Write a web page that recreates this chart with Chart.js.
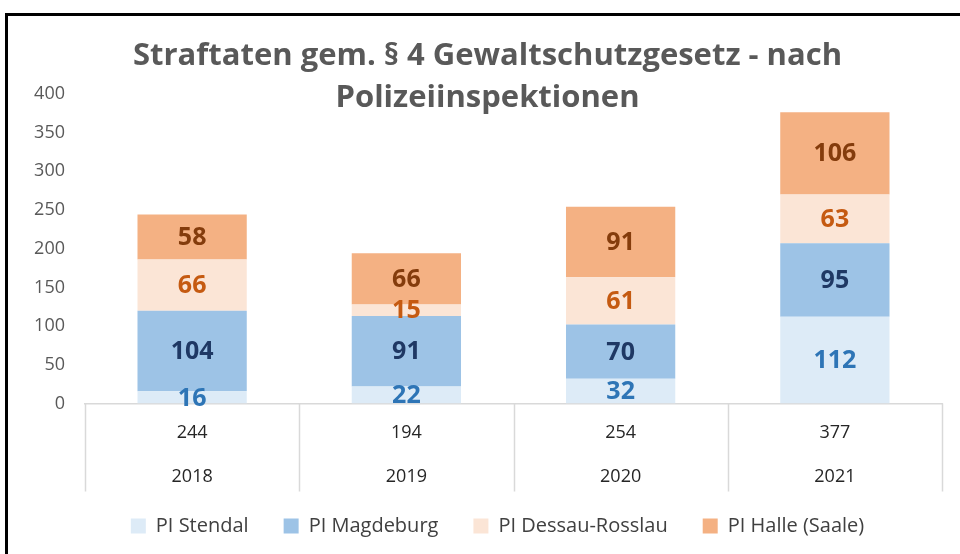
<!DOCTYPE html>
<html>
<head>
<meta charset="utf-8">
<script src="https://cdn.jsdelivr.net/npm/chart.js@4/dist/chart.umd.min.js"></script>
<style>
  body { margin: 0; overflow: hidden; background: #fff; }
  #frame { position: absolute; left: 5px; top: 13px; width: 1000px; height: 600px; border: 3px solid #000; }
  #wrap { position: absolute; left: 0; top: 0; width: 960px; height: 554px; }
</style>
</head>
<body>
<div id="frame"></div>
<div id="wrap"><canvas id="giltChart"></canvas></div>
<script>
var years = ["2018", "2019", "2020", "2021"];
var totals = ["244", "194", "254", "377"];
var series = ["PI Stendal", "PI Magdeburg", "PI Dessau-Rosslau", "PI Halle (Saale)"];
var stendal = [16, 22, 32, 112];
var magdeburg = [104, 91, 70, 95];
var dessau = [66, 15, 61, 63];
var halle = [58, 66, 91, 106];

var FONT = "'Open Sans', sans-serif";

// value in the middle of each bar segment
var segmentLabels = {
  id: "segmentLabels",
  afterDatasetsDraw: function (chart) {
    var ctx = chart.ctx;
    ctx.save();
    ctx.font = "bold 25px " + FONT;
    ctx.textAlign = "center";
    ctx.textBaseline = "middle";
    chart.data.datasets.forEach(function (ds, i) {
      var meta = chart.getDatasetMeta(i);
      meta.data.forEach(function (bar, j) {
        var c = bar.getCenterPoint();
        ctx.fillStyle = ds.labelColor;
        ctx.fillText(String(ds.data[j]), c.x, c.y + 1);
      });
    });
    ctx.restore();
  },
};

// table-style separators under the x axis
var axisTable = {
  id: "axisTable",
  afterLayout: function (chart) {
    // legend sits a bit right of centre in the original
    chart.legend.left += 10;
    chart.legend.right += 10;
  },
  afterDraw: function (chart) {
    var x = chart.scales.x;
    var ctx = chart.ctx;
    var half = (x.getPixelForValue(1) - x.getPixelForValue(0)) / 2;
    ctx.save();
    ctx.strokeStyle = "#D9D9D9";
    ctx.lineWidth = 1.5;
    ctx.beginPath();
    for (var i = 0; i <= years.length; i++) {
      var px = Math.round(x.getPixelForValue(i) - half) + 0.5;
      ctx.moveTo(px, x.top);
      ctx.lineTo(px, x.top + 88);
    }
    ctx.stroke();
    ctx.restore();
  },
};

var ctx = document.getElementById("giltChart").getContext("2d");
var chart = new Chart(ctx, {
  type: "bar",
  plugins: [segmentLabels, axisTable],
  data: {
    labels: years.map(function (y, i) { return [totals[i], y]; }),
    datasets: [
      { label: series[0], data: stendal, backgroundColor: "#DDEBF7", labelColor: "#2E75B6" },
      { label: series[1], data: magdeburg, backgroundColor: "#9DC3E6", labelColor: "#1F3864" },
      { label: series[2], data: dessau, backgroundColor: "#FBE5D6", labelColor: "#C55A11" },
      { label: series[3], data: halle, backgroundColor: "#F4B183", labelColor: "#843C0C" },
    ],
  },
  options: {
    responsive: true,
    maintainAspectRatio: false,
    animation: false,
    datasets: {
      bar: { categoryPercentage: 1, barPercentage: 0.51 },
    },
    layout: { padding: { left: 33, right: 18, top: 0, bottom: 8 } },
    plugins: {
      tooltip: { enabled: false },
      title: {
        display: true,
        text: ["Straftaten gem. § 4 Gewaltschutzgesetz - nach", "Polizeiinspektionen"],
        color: "#595959",
        font: { family: FONT, size: 31, weight: "bold", lineHeight: 1.35 },
        padding: { top: 35, bottom: -25 },
      },
      legend: {
        position: "bottom",
        labels: {
          boxWidth: 15,
          boxHeight: 15,
          padding: 10,
          color: "#404040",
          font: { family: FONT, size: 20 },
          generateLabels: function (chart) {
            var items = Chart.defaults.plugins.legend.labels.generateLabels(chart);
            items.forEach(function (it, i) {
              if (i < items.length - 1) it.text = it.text + "\u2003\u2005";
            });
            return items;
          },
        },
      },
    },
    scales: {
      x: {
        stacked: true,
        grid: { display: false, drawTicks: false },
        border: { color: "#D9D9D9", width: 1.5 },
        ticks: {
          color: "#262626",
          padding: 8,
          autoSkip: false,
          maxRotation: 0,
          font: { family: FONT, size: 18, lineHeight: 2.4 },
        },
      },
      y: {
        stacked: true,
        min: 0,
        max: 400,
        afterFit: function (s) { s.width = 52; },
        grid: { display: false, drawTicks: false },
        border: { display: false },
        ticks: {
          stepSize: 50,
          padding: 20,
          color: "#595959",
          font: { family: FONT, size: 18 },
        },
      },
    },
  },
});
</script>
</body>
</html>
